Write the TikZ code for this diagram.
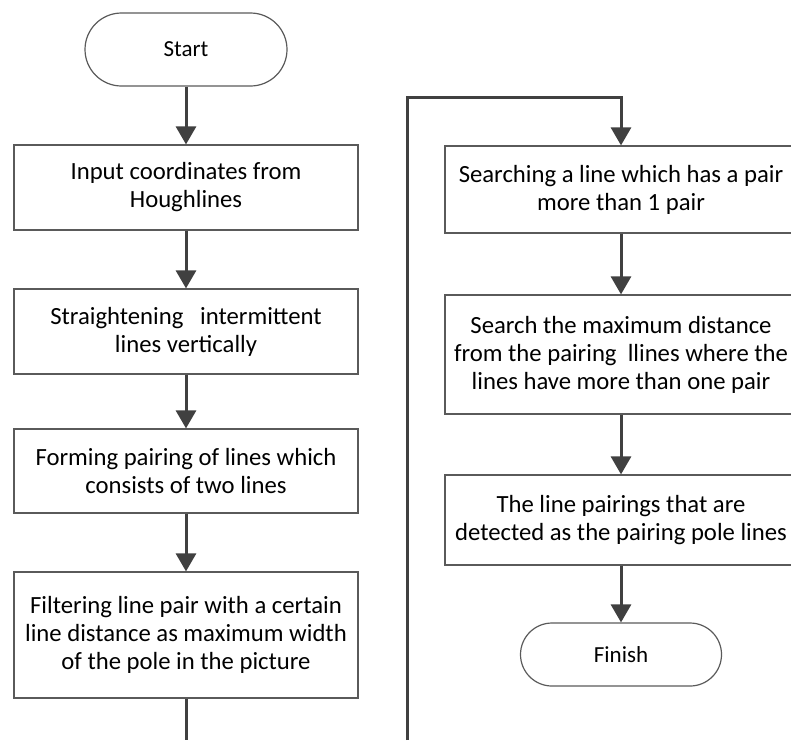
\documentclass[tikz,border=0pt]{standalone}
\usepackage{fontspec}
\setmainfont{Carlito}
\usetikzlibrary{arrows.meta,shapes.misc}
\definecolor{boxline}{HTML}{5A5A5A}
\definecolor{arrowcol}{HTML}{404040}
\tikzset{
  stepbox/.style={draw=boxline, line width=1.2pt, align=center, inner sep=2pt,
    font=\fontsize{24.7}{28}\selectfont},
  termbox/.style={draw=boxline, line width=1.2pt, rounded rectangle, align=center,
    font=\fontsize{23}{26}\selectfont, inner sep=0pt},
  flow/.style={draw=arrowcol, line width=3pt, -{Triangle[width=20pt,length=18pt]}},
  plainflow/.style={draw=arrowcol, line width=3pt},
}
\begin{document}
\begin{tikzpicture}[x=1pt,y=1pt]
\useasboundingbox (0,0) rectangle (791,-740);
% left column
\node[termbox, minimum width=202pt, minimum height=73pt] (start) at (186,-49.5) {Start};
\node[stepbox, minimum width=344pt, minimum height=85pt] (b1) at (186,-187.5)
  {Input coordinates from\\Houghlines};
\node[stepbox, minimum width=344pt, minimum height=85pt] (b2) at (186,-331.5)
  {Straightening\ \ \ intermittent\\lines vertically};
\node[stepbox, minimum width=344pt, minimum height=84pt] (b3) at (186,-471)
  {Forming pairing of lines which\\consists of two lines};
\node[stepbox, minimum width=344pt, minimum height=126pt] (b4) at (186,-635)
  {Filtering line pair with a certain\\line distance as maximum width\\of the pole in the picture};
% right column
\node[stepbox, minimum width=352pt, minimum height=87pt] (b5) at (621,-189.5)
  {Searching a line which has a pair\\more than 1 pair};
\node[stepbox, minimum width=352pt, minimum height=119pt] (b6) at (621,-354.5)
  {Search the maximum distance\\from the pairing\ \ llines where the\\lines have more than one pair};
\node[stepbox, minimum width=352pt, minimum height=90pt] (b7) at (621,-520)
  {The line pairings that are\\detected as the pairing pole lines};
\node[termbox, minimum width=201pt, minimum height=63pt] (finish) at (621,-654.5) {Finish};
% connectors
\draw[flow] (start.south) -- (b1.north);
\draw[flow] (b1.south) -- (b2.north);
\draw[flow] (b2.south) -- (b3.north);
\draw[flow] (b3.south) -- (b4.north);
\coordinate (leftend) at (186,-740);
\draw[plainflow] (b4.south) -- (leftend);
\coordinate (loopbot) at (407.5,-740);
\coordinate (looptop) at (407.5,-97);
\draw[flow] (loopbot) -- (looptop) -| (b5.north);
\draw[flow] (b5.south) -- (b6.north);
\draw[flow] (b6.south) -- (b7.north);
\draw[flow] (b7.south) -- (finish.north);
\end{tikzpicture}
\end{document}
